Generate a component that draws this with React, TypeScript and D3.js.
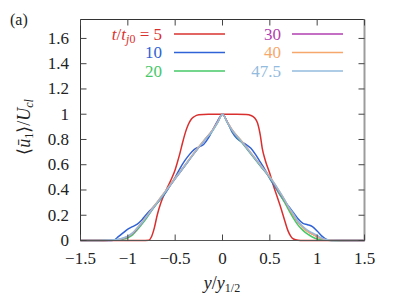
import React, { useEffect, useRef } from "react";
import * as d3 from "d3";

const W = 399;
const H = 301;

const xTicks = [-1.5, -1, -0.5, 0, 0.5, 1, 1.5];
const xTickLabels = ["−1.5", "−1", "−0.5", "0", "0.5", "1", "1.5"];
const yTicks = [0, 0.2, 0.4, 0.6, 0.8, 1, 1.2, 1.4, 1.6];
const yTickLabels = ["0", "0.2", "0.4", "0.6", "0.8", "1", "1.2", "1.4", "1.6"];

// t/tj0 = 5
const redX = [-1.5, -0.85, -0.78, -0.75, -0.72, -0.69, -0.65, -0.6, -0.55, -0.5, -0.48, -0.45, -0.42, -0.39, -0.36, -0.33, -0.3, -0.25, -0.15, 0, 0.15, 0.25, 0.3, 0.34, 0.37, 0.4, 0.42, 0.45, 0.5, 0.54, 0.58, 0.62, 0.66, 0.69, 0.72, 0.75, 0.8, 0.85, 1.5];
const redY = [0, 0, 0.002, 0.03, 0.1, 0.2, 0.3, 0.39, 0.47, 0.56, 0.61, 0.69, 0.78, 0.86, 0.92, 0.96, 0.98, 0.995, 1, 1, 1, 0.997, 0.99, 0.97, 0.93, 0.83, 0.73, 0.64, 0.53, 0.43, 0.34, 0.25, 0.15, 0.08, 0.035, 0.012, 0.002, 0, 0];

// t/tj0 = 10
const blueX = [-1.5, -1.2, -1.15, -1.1, -1.05, -1.0, -0.95, -0.9, -0.85, -0.8, -0.75, -0.7, -0.65, -0.6, -0.55, -0.5, -0.45, -0.4, -0.35, -0.3, -0.25, -0.2, -0.15, -0.1, -0.05, 0, 0.05, 0.1, 0.15, 0.2, 0.25, 0.3, 0.35, 0.4, 0.45, 0.5, 0.55, 0.6, 0.65, 0.7, 0.75, 0.8, 0.85, 0.9, 0.95, 1.0, 1.05, 1.1, 1.15, 1.5];
const blueY = [0, 0, 0.002, 0.03, 0.06, 0.09, 0.11, 0.13, 0.165, 0.21, 0.25, 0.29, 0.33, 0.38, 0.44, 0.5, 0.57, 0.63, 0.68, 0.72, 0.74, 0.76, 0.81, 0.88, 0.95, 1.0, 0.94, 0.86, 0.81, 0.78, 0.76, 0.73, 0.68, 0.62, 0.56, 0.49, 0.43, 0.37, 0.315, 0.27, 0.22, 0.17, 0.135, 0.125, 0.11, 0.075, 0.035, 0.008, 0, 0];

// shared grid for later times
const gridX = [-1.5, -1.3, -1.2, -1.1, -1.05, -1.0, -0.95, -0.9, -0.85, -0.8, -0.75, -0.7, -0.65, -0.6, -0.55, -0.5, -0.4, -0.3, -0.2, -0.1, -0.05, 0, 0.05, 0.1, 0.2, 0.3, 0.4, 0.5, 0.55, 0.6, 0.65, 0.7, 0.75, 0.8, 0.85, 0.9, 0.95, 1.0, 1.05, 1.1, 1.2, 1.3, 1.5];
const greenY = [0, 0, 0.001, 0.004, 0.01, 0.022, 0.045, 0.085, 0.13, 0.18, 0.235, 0.285, 0.335, 0.385, 0.44, 0.49, 0.59, 0.69, 0.785, 0.875, 0.935, 1, 0.935, 0.87, 0.78, 0.685, 0.59, 0.495, 0.44, 0.375, 0.31, 0.24, 0.175, 0.12, 0.08, 0.05, 0.028, 0.012, 0.004, 0.001, 0, 0, 0];
const purpleY = [0, 0, 0.002, 0.006, 0.015, 0.03, 0.055, 0.095, 0.14, 0.19, 0.24, 0.29, 0.34, 0.39, 0.44, 0.49, 0.59, 0.69, 0.785, 0.88, 0.94, 1, 0.94, 0.875, 0.785, 0.69, 0.595, 0.5, 0.445, 0.385, 0.325, 0.26, 0.2, 0.145, 0.105, 0.075, 0.05, 0.03, 0.015, 0.005, 0.001, 0, 0];
const orangeY = [0, 0, 0.002, 0.008, 0.018, 0.032, 0.058, 0.1, 0.145, 0.195, 0.245, 0.295, 0.345, 0.395, 0.445, 0.495, 0.595, 0.695, 0.79, 0.88, 0.94, 1, 0.94, 0.88, 0.79, 0.695, 0.6, 0.505, 0.45, 0.39, 0.33, 0.26, 0.2, 0.145, 0.1, 0.07, 0.05, 0.03, 0.015, 0.005, 0.001, 0, 0];
const lightBlueY = [0, 0, 0.003, 0.01, 0.02, 0.035, 0.06, 0.1, 0.14, 0.19, 0.24, 0.29, 0.34, 0.39, 0.44, 0.49, 0.59, 0.69, 0.785, 0.875, 0.935, 1, 0.935, 0.875, 0.785, 0.69, 0.595, 0.5, 0.45, 0.39, 0.33, 0.265, 0.21, 0.15, 0.11, 0.08, 0.06, 0.04, 0.02, 0.006, 0.001, 0, 0];

const seriesLabels = ["5", "10", "20", "30", "40", "47.5"];
const seriesColors = ["#d9302f", "#2f62d6", "#45c866", "#b23fb0", "#f6a86c", "#93bbdd"];

const series = [
  { xs: redX, ys: redY },
  { xs: blueX, ys: blueY },
  { xs: gridX, ys: greenY },
  { xs: gridX, ys: purpleY },
  { xs: gridX, ys: orangeY },
  { xs: gridX, ys: lightBlueY },
];

const FONT = "Liberation Serif";

export default function App() {
  const ref = useRef<SVGSVGElement | null>(null);

  useEffect(() => {
    const svg = d3.select(ref.current);
    svg.selectAll("*").remove();
    const left = 80.5, right = 364.5, top = 19.5, bottom = 240.5;
    const x = d3.scaleLinear().domain([-1.5, 1.5]).range([left, right]);
    const y = d3.scaleLinear().domain([0, 1.75]).range([bottom, top]);
    const line = d3
      .line<[number, number]>()
      .x((d) => x(d[0]))
      .y((d) => y(d[1]))
      .curve(d3.curveMonotoneX);
    const tickLen = 6;

    svg.append("rect").attr("width", W).attr("height", H).attr("fill", "#fff");

    const txt = (g: any) =>
      g.append("text").attr("font-family", FONT).style("font-family", `"${FONT}"`).attr("fill", "#222");

    txt(svg).attr("x", 10).attr("y", 25).attr("font-size", 16).text("(a)");

    series.forEach((s, i) => {
      svg
        .append("path")
        .attr("d", line(s.xs.map((v, j) => [v, s.ys[j]] as [number, number])) || "")
        .attr("fill", "none")
        .attr("stroke", seriesColors[i])
        .attr("stroke-width", 1.5);
    });

    svg.append("line").attr("x1", left).attr("x2", right).attr("y1", top).attr("y2", top).attr("stroke", "#333");
    svg.append("line").attr("x1", left).attr("x2", left).attr("y1", top).attr("y2", bottom).attr("stroke", "#333");
    svg.append("line").attr("x1", left).attr("x2", right).attr("y1", bottom).attr("y2", bottom).attr("stroke", "#555");
    svg.append("line").attr("x1", right).attr("x2", right).attr("y1", top).attr("y2", bottom).attr("stroke", "#9c9c9c").attr("stroke-width", 2);

    xTicks.forEach((t, i) => {
      svg.append("line").attr("x1", x(t)).attr("x2", x(t)).attr("y1", bottom).attr("y2", bottom - tickLen).attr("stroke", "#444");
      svg.append("line").attr("x1", x(t)).attr("x2", x(t)).attr("y1", top).attr("y2", top + tickLen).attr("stroke", "#444");
      txt(svg).attr("x", x(t)).attr("y", 264).attr("font-size", 17).attr("text-anchor", "middle").text(xTickLabels[i]);
    });

    yTicks.forEach((t, i) => {
      svg.append("line").attr("x1", left).attr("x2", left + tickLen).attr("y1", y(t)).attr("y2", y(t)).attr("stroke", "#444");
      svg.append("line").attr("x1", right).attr("x2", right - tickLen).attr("y1", y(t)).attr("y2", y(t)).attr("stroke", "#444");
      txt(svg).attr("x", 69).attr("y", y(t) + 5.5).attr("font-size", 17).attr("text-anchor", "end").text(yTickLabels[i]);
    });

    const xl = txt(svg).attr("x", 222).attr("y", 289).attr("font-size", 18).attr("text-anchor", "middle");
    xl.append("tspan").attr("font-style", "italic").text("y");
    xl.append("tspan").text("/");
    xl.append("tspan").attr("font-style", "italic").text("y");
    xl.append("tspan").attr("font-size", 12).attr("dy", 3).text("1/2");

    const yl = txt(svg).attr("transform", "translate(30,127) rotate(-90)").attr("font-size", 18).attr("text-anchor", "middle");
    yl.append("tspan").text("⟨");
    yl.append("tspan").attr("font-style", "italic").text("ū");
    yl.append("tspan").attr("font-size", 12).attr("dy", 3).text("1");
    yl.append("tspan").attr("dy", -3).text("⟩/");
    yl.append("tspan").attr("font-style", "italic").text("U");
    yl.append("tspan").attr("font-size", 12).attr("font-style", "italic").attr("dy", 3).text("cl");

    const legendRows = [34, 52.5, 71];
    const legendCols = [
      { textX: 162, x1: 174, x2: 225 },
      { textX: 281, x1: 292, x2: 343 },
    ];
    seriesLabels.forEach((lab, i) => {
      const col = legendCols[i < 3 ? 0 : 1];
      const ry = legendRows[i % 3];
      const t = txt(svg).attr("x", col.textX).attr("y", ry + 5.5).attr("font-size", 17).attr("text-anchor", "end").attr("fill", seriesColors[i]);
      if (i === 0) {
        t.append("tspan").attr("font-style", "italic").text("t");
        t.append("tspan").text("/");
        t.append("tspan").attr("font-style", "italic").text("t");
        t.append("tspan").attr("font-size", 12).attr("font-style", "italic").attr("dy", 3).text("j");
        t.append("tspan").attr("font-size", 12).text("0");
        t.append("tspan").attr("dy", -3).text(" = " + lab);
      } else {
        t.text(lab);
      }
      svg.append("line").attr("x1", col.x1).attr("x2", col.x2).attr("y1", ry).attr("y2", ry).attr("stroke", seriesColors[i]).attr("stroke-width", 1.5);
    });
  }, []);

  return <svg ref={ref} width={W} height={H} style={{ position: "absolute", left: 0, top: 0 }} />;
}
